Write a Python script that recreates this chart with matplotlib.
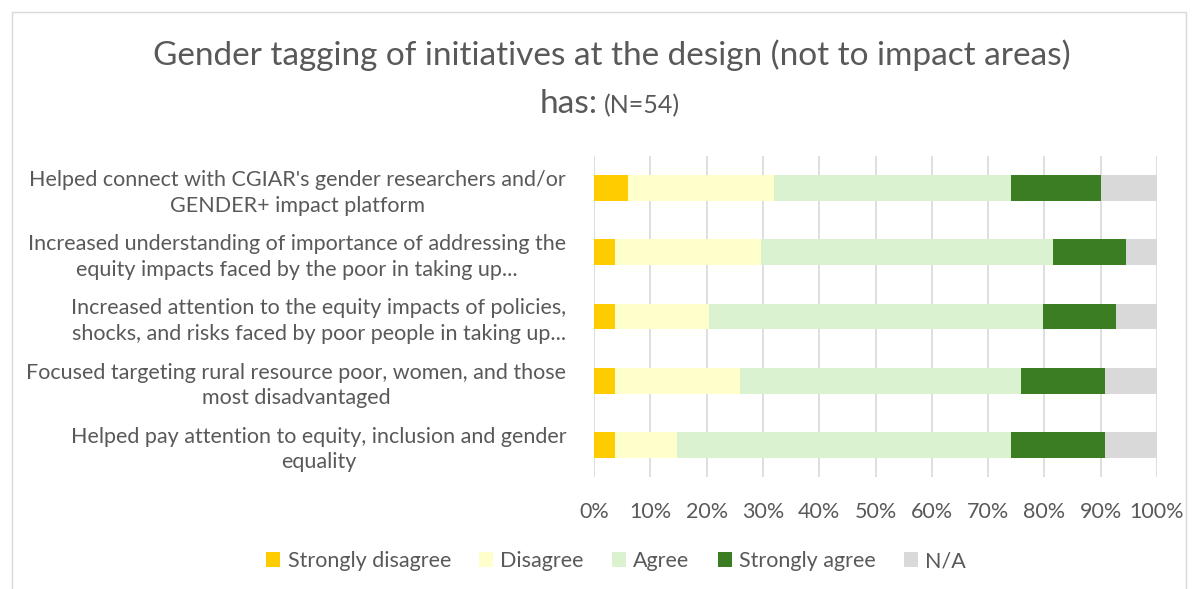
import matplotlib.pyplot as plt
import numpy as np
from matplotlib.patches import Rectangle

plt.rcParams['font.family'] = ['Lato', 'DejaVu Sans']

titulo = 'Gender tagging of initiatives at the design (not to impact areas)'
categorias = [
    "Helped connect with CGIAR's gender researchers and/or\nGENDER+ impact platform",
    "Increased understanding of importance of addressing the\nequity impacts faced by the poor in taking up...",
    "Increased attention to the equity impacts of policies,\nshocks, and risks faced by poor people in taking up...",
    "Focused targeting rural resource poor, women, and those\nmost disadvantaged",
    "Helped pay attention to equity, inclusion and gender\nequality",
]
series = ['Strongly disagree', 'Disagree', 'Agree', 'Strongly agree', 'N/A']
cores = ['#FFCC00', '#FFFFCC', '#DAF2D0', '#3B7D23', '#D9D9D9']

strongly_disagree = [6.0, 3.7, 3.7, 3.7, 3.7]
disagree = [26.0, 25.9, 16.7, 22.2, 11.1]
agree = [42.0, 51.9, 59.3, 50.0, 59.3]
strongly_agree = [16.0, 13.0, 13.0, 14.8, 16.7]
na = [10.0, 5.6, 7.4, 9.3, 9.3]

valores = [strongly_disagree, disagree, agree, strongly_agree, na]
cinza = '#595959'

fig = plt.figure(figsize=(11.94, 5.89), dpi=100)
ax = fig.add_axes([594 / 1194, 1 - 477 / 589, 563 / 1194, 321 / 589])

y = np.arange(len(categorias))
esq = np.zeros(len(categorias))
for nome, v, c in zip(series, valores, cores):
    v = np.array(v)
    ax.barh(y, v, left=esq, height=0.4, color=c, label=nome, zorder=3)
    esq += v

ax.set_ylim(len(categorias) - 0.5, -0.5)
ax.set_xlim(0, 100)
ax.set_xticks(np.arange(0, 101, 10))
ax.set_xticklabels([f'{t}%' for t in range(0, 101, 10)])
ax.set_yticks(y)
ax.set_yticklabels(categorias, multialignment='center', linespacing=1.35)
ax.tick_params(axis='x', length=0, pad=18, labelsize=15.5, labelcolor=cinza)
ax.tick_params(axis='y', length=0, pad=20, labelsize=15.5, labelcolor=cinza)
ax.grid(axis='x', color='#D9D9D9', linewidth=1.2, zorder=0)
for s in ax.spines.values():
    s.set_visible(False)

fig.text(0.512, 1 - 55 / 589, titulo, ha='center', va='center', fontsize=24, color=cinza)
fig.text(598 / 1194, 1 - 104 / 589, 'has:', ha='right', va='center', fontsize=24, color=cinza)
fig.text(604 / 1194, 1 - 106 / 589, '(N=54)', ha='left', va='center', fontsize=18, color=cinza)

leg = fig.legend(loc='center', bbox_to_anchor=(0.516, 1 - 561 / 589), ncol=5, frameon=False,
                 fontsize=15.5, handlelength=0.65, handleheight=0.65, handletextpad=0.35,
                 columnspacing=1.3)
for t in leg.get_texts():
    t.set_color(cinza)

fig.patches.append(Rectangle((12 / 1194, -0.01), 1174 / 1194, 1 - 12 / 589 + 0.01,
                             transform=fig.transFigure, fill=False,
                             edgecolor='#D9D9D9', linewidth=1))

plt.savefig('out.png', dpi=100)
